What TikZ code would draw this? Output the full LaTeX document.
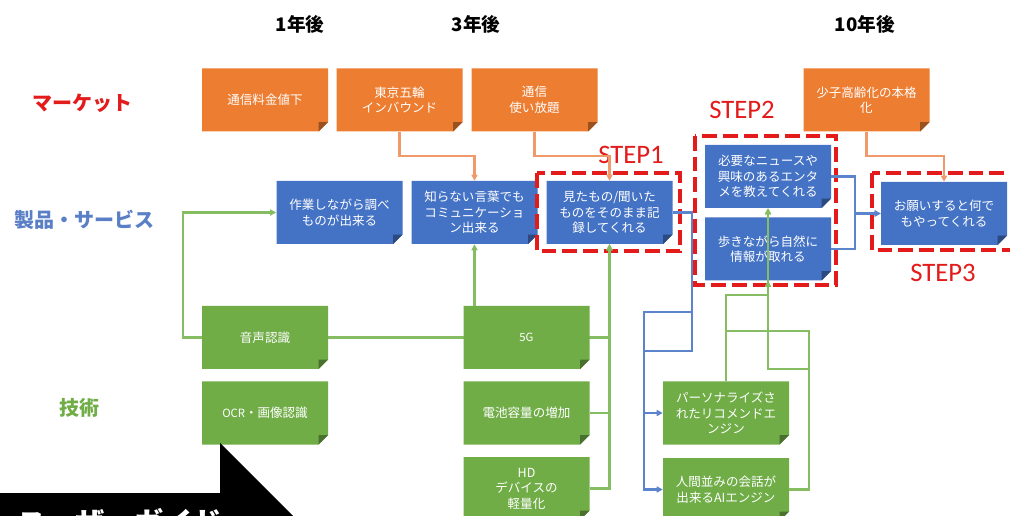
\documentclass[tikz,border=0pt]{standalone}
\usepackage{fontspec}
\setmainfont{Noto Sans CJK JP}
\newfontfamily\stepfont{Carlito}
\usetikzlibrary{arrows.meta,calc}
\pgfdeclarelayer{bg}
\pgfsetlayers{bg,main}
\definecolor{mkto}{HTML}{ED7D31}
\definecolor{prdb}{HTML}{4472C4}
\definecolor{tecg}{HTML}{70AD47}
\definecolor{redd}{HTML}{E31B1B}
\definecolor{lineo}{HTML}{F0996A}
\definecolor{lineb}{HTML}{5B84CC}
\definecolor{lineg}{HTML}{86BD62}
\definecolor{labb}{HTML}{5B7FC6}
\tikzset{
  notebox/.style={minimum width=94.5pt, minimum height=47.25pt, inner sep=1pt,
    text=white, align=center, font=\fontsize{9.4pt}{11.6pt}\selectfont,
    path picture={
      \fill[#1] (path picture bounding box.north west) -- (path picture bounding box.north east)
        -- ([yshift=7pt]path picture bounding box.south east)
        -- ([xshift=-7pt]path picture bounding box.south east)
        -- (path picture bounding box.south west) -- cycle;
      \fill[#1!65!black] ([yshift=7pt]path picture bounding box.south east)
        -- ([xshift=-7pt,yshift=7pt]path picture bounding box.south east)
        -- ([xshift=-7pt]path picture bounding box.south east) -- cycle;
    }},
  mkt/.style={notebox=mkto},
  prd/.style={notebox=prdb},
  tec/.style={notebox=tecg},
  conn/.style={line width=1.6pt, -{Triangle[length=4.5pt,width=4.5pt]}},
  oconn/.style={conn, draw=lineo},
  bconn/.style={conn, draw=lineb},
  gconn/.style={conn, draw=lineg},
  stepbox/.style={draw=redd, line width=3pt, dash pattern=on 11pt off 4.5pt},
  steplabel/.style={text=redd, inner sep=0pt, font=\stepfont\fontsize{20pt}{20pt}\selectfont},
  rowlabel/.style={inner sep=0pt, font=\bfseries\fontsize{15pt}{15pt}\selectfont},
  hdr/.style={inner sep=0pt, font=\bfseries\fontsize{14pt}{14pt}\selectfont},
}
\begin{document}
\begin{tikzpicture}[x=0.75pt,y=-0.75pt]
\useasboundingbox (0,0) rectangle (1010,516);
\clip (0,0) rectangle (1010,516);
\begin{pgfonlayer}{bg}
\fill[white] (0,0) rectangle (1010,516);
\end{pgfonlayer}

% headers
\node[hdr] (h1) at (300,24) {1年後};
\node[hdr] (h3) at (476,24) {3年後};
\node[hdr] (h10) at (865,24) {10年後};

% row labels
\node[rowlabel, text=redd] (r1) at (82,103) {マーケット};
\node[rowlabel, text=labb] (r2) at (84,220) {製品・サービス};
\node[rowlabel, text=tecg] (r3) at (79,408) {技術};

% market
\node[mkt] (m1) at (265,100) {通信料金値下};
\node[mkt] (m2) at (399.5,100) {東京五輪\\インバウンド};
\node[mkt] (m3) at (534.5,100) {通信\\使い放題};
\node[mkt] (m4) at (866.5,100) {少子高齢化の本格\\化};

% products
\node[prd] (p1) at (339.5,212.5) {作業しながら調べ\\ものが出来る};
\node[prd] (p2) at (474.5,212.5) {知らない言葉でも\\コミュニケーショ\\ン出来る};
\node[prd] (p3) at (609.5,212.5) {見たもの/聞いた\\ものをそのまま記\\録してくれる};
\node[prd] (p4) at (768,176.5) {必要なニュースや\\興味のあるエンタ\\メを教えてくれる};
\node[prd] (p5) at (768,249) {歩きながら自然に\\情報が取れる};
\node[prd] (p6) at (944,213.5) {お願いすると何で\\もやってくれる};

% technology
\node[tec] (t1) at (265,337.5) {音声認識};
\node[tec] (t2) at (265,413) {{\fontsize{8.5pt}{10pt}\selectfont OCR}・画像認識};
\node[tec] (t3) at (526.5,337.5) {{\fontsize{8.5pt}{10pt}\selectfont 5G}};
\node[tec] (t4) at (526.5,413) {電池容量の増加};
\node[tec] (t5) at (526.5,488.5) {HD\\デバイスの\\軽量化};
\node[tec] (t6) at (726,413) {パーソナライズさ\\れたリコメンドエ\\ンジン};
\node[tec] (t7) at (726,489.5) {人間並みの会話が\\出来るAIエンジン};

% step frames
\draw[stepbox] (537,173) rectangle (680,251);
\draw[stepbox] (695,136) rectangle (836,285);
\draw[stepbox] (872,173) rectangle (1016,250);
\node[steplabel] (s1) at (631,155) {STEP1};
\node[steplabel] (s2) at (742,110) {STEP2};
\node[steplabel] (s3) at (943,273) {STEP3};

% orange connectors
\draw[oconn] (m2.south) -- ++(0,24) -| (p2.north);
\draw[oconn] (m3.south) -- ++(0,24) -| (p3.north);
\draw[oconn] (m4.south) -- ++(0,24) -| (p6.north);

% green connectors
\draw[gconn] (t1.west) -- ++(-19,0) |- (p1.west);
\begin{pgfonlayer}{bg}
\draw[gconn] (t1.east) -| (p3.south);
\end{pgfonlayer}
\draw[gconn] (t3.north -| p2.south) -- (p2.south);
\draw[gconn] (t3.east) -| (p3.south);
\draw[gconn] (t4.east) -| (p3.south);
\draw[gconn] (t5.east) -| (p3.south);

% blue connectors
\draw[bconn] (p3.east) -- ++(19,0) |- (644,312) |- (t6.west);
\draw[bconn] (p3.east) -- ++(19,0) |- (644,351) |- (t7.west);
\draw[bconn] (p4.east) -- ++(24,0) |- (p6.west);
\draw[bconn] (p5.east) -- ++(24,0) |- (p6.west);

% green connectors to step2
\draw[gconn] (t6.north) |- (768,295) -- (p4.south);
\draw[gconn] (t6.north) |- (768,331) -- (p5.south);
\draw[gconn] (t7.east) -- ++(20,0) |- (768,331) -- (p4.south);
\draw[gconn] (t7.east) -- ++(20,0) |- (768,369) -- (p5.south);

% black arrow at bottom left
\fill[black] (-10,493) -- (220,493) -- (220,443) -- (320,543) -- (-10,543) -- cycle;
\node[anchor=base west, inner sep=0pt, text=white, font=\bfseries\fontsize{22pt}{22pt}\selectfont] (ua) at (17,533) {ユーザーガイド};
\end{tikzpicture}
\end{document}
